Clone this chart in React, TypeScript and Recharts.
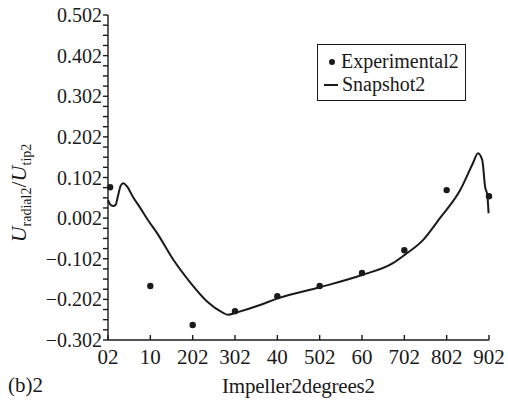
import { ComposedChart, Line, Scatter, XAxis, YAxis } from "recharts";

const xTickValues = [0, 10, 20, 30, 40, 50, 60, 70, 80, 90];
const xTickLabels = ["02", "10", "202", "302", "40", "502", "60", "702", "802", "902"];

const yMajorValues = [-0.3, -0.2, -0.1, 0, 0.1, 0.2, 0.3, 0.4, 0.5];
const yTickLabels = ["\u22120.302", "\u22120.202", "\u22120.102", "0.002", "0.102", "0.202", "0.302", "0.402", "0.502"];

// experimental points
const expDeg = [0.5, 10, 20, 30, 40, 50, 60, 70, 80, 90];
const expVal = [0.076, -0.167, -0.263, -0.229, -0.192, -0.167, -0.135, -0.079, 0.069, 0.054];

// snapshot curve
const snapDeg = [0, 0.5, 1.2, 1.8, 2.4, 3.0, 3.6, 4.5, 5.9, 7.5, 9.5, 11.6, 15.4, 19.4, 23.4, 27.2, 28.3, 30.5, 35.9, 40.2, 50.1, 60, 67.3, 70, 74.4, 78.4, 83.2, 86.2, 87.4, 88.4, 89.1, 89.6, 89.9];
const snapVal = [0.044, 0.034, 0.03, 0.033, 0.057, 0.08, 0.086, 0.078, 0.052, 0.027, -0.006, -0.037, -0.102, -0.158, -0.205, -0.233, -0.238, -0.232, -0.214, -0.197, -0.17, -0.14, -0.111, -0.091, -0.054, 0.0, 0.069, 0.135, 0.16, 0.143, 0.076, 0.057, 0.012];

const expData = expDeg.map((d, i) => ({ deg: d, val: expVal[i] }));
const snapData = snapDeg.map((d, i) => ({ deg: d, val: snapVal[i] }));

// minor ticks every 0.025 between the major ones
const yTicks: number[] = [];
yMajorValues.forEach((m, i) => {
  yTicks.push(m);
  if (i < yMajorValues.length - 1) {
    for (let k = 1; k < 4; k++) yTicks.push(+(m + k * 0.025).toFixed(3));
  }
});

const FONT = "Liberation Serif, serif";
const INK = "#1a1a1a";

function yFormat(v: number) {
  const i = yMajorValues.findIndex((m) => Math.abs(m - v) < 1e-6);
  return i >= 0 ? yTickLabels[i] : "";
}

function xFormat(v: number) {
  const i = xTickValues.indexOf(v);
  return i >= 0 ? xTickLabels[i] : "";
}

export default function App() {
  return (
    <div style={{ position: "absolute", left: 0, top: 0, width: 508, height: 403, background: "#fff" }}>
      <ComposedChart width={508} height={403} margin={{ top: 15, right: 19, bottom: 33, left: 0 }}>
        <XAxis
          dataKey="deg"
          type="number"
          domain={[0, 90]}
          ticks={xTickValues}
          tickFormatter={xFormat}
          allowDuplicatedCategory={false}
          height={30}
          tickSize={-5}
          tickMargin={14}
          stroke={INK}
          strokeWidth={1.4}
          tick={{ fill: INK, fontSize: 21, fontFamily: FONT }}
        />
        <YAxis
          dataKey="val"
          type="number"
          domain={[-0.3, 0.5]}
          ticks={yTicks}
          interval={0}
          tickFormatter={yFormat}
          width={108}
          tickSize={5}
          tickMargin={1}
          stroke={INK}
          strokeWidth={1.4}
          tick={{ fill: INK, fontSize: 20, fontFamily: FONT }}
        />
        <Line
          data={snapData}
          dataKey="val"
          type="monotone"
          stroke={INK}
          strokeWidth={2}
          dot={false}
          activeDot={false}
          isAnimationActive={false}
        />
        <Scatter
          data={expData}
          dataKey="val"
          fill={INK}
          isAnimationActive={false}
          shape={(p: any) => <circle cx={p.cx} cy={p.cy} r={3.2} fill={INK} />}
        />
        <text transform="translate(26,193) rotate(-90)" textAnchor="middle" fill={INK} fontFamily={FONT}>
          <tspan fontSize={22} fontStyle="italic">U</tspan>
          <tspan fontSize={14} dy={5}>radial2</tspan>
          <tspan fontSize={22} dy={-5}>/</tspan>
          <tspan fontSize={22} fontStyle="italic">U</tspan>
          <tspan fontSize={14} dy={5}>tip2</tspan>
        </text>
      </ComposedChart>
      <div
        style={{
          position: "absolute",
          left: 317,
          top: 44,
          border: `1.3px solid ${INK}`,
          width: 149,
          height: 57,
          boxSizing: "border-box",
          fontFamily: FONT,
          fontSize: 20,
          color: INK,
          padding: "5px 0 0 6px",
          lineHeight: "23px",
        }}
      >
        <div style={{ display: "flex", alignItems: "center" }}>
          <span style={{ display: "inline-block", width: 6, height: 6, borderRadius: 3, background: INK, margin: "0 6px 0 5px" }} />
          <span>Experimental2</span>
        </div>
        <div style={{ display: "flex", alignItems: "center" }}>
          <span style={{ display: "inline-block", width: 14, height: 2, background: INK, marginRight: 4 }} />
          <span>Snapshot2</span>
        </div>
      </div>
      <div style={{ position: "absolute", left: 8, top: 373, fontFamily: FONT, fontSize: 21, color: INK }}>(b)2</div>
      <div style={{ position: "absolute", left: 222, top: 374, fontFamily: FONT, fontSize: 21, color: INK, letterSpacing: -0.2 }}>
        Impeller2degrees2
      </div>
    </div>
  );
}
